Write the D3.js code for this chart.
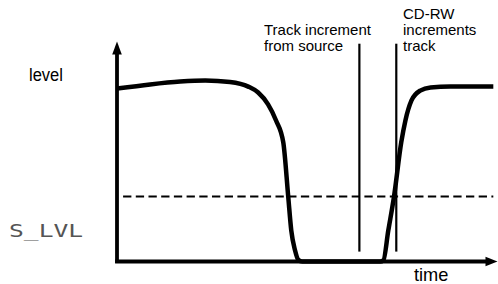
<!DOCTYPE html>
<html>
<head>
<meta charset="utf-8">
<script src="https://cdn.jsdelivr.net/npm/d3@7"></script>
<style>
  html, body { margin: 0; padding: 0; background: #fff; }
  svg { display: block; }
</style>
</head>
<body>
<div id="chart"></div>
<script>
// Signal level over time (time and level in 0..100 units)
const curveTime = [0, 8.7, 16.6, 23.2, 29.7, 34.5, 37.1, 39.7, 41.8, 43.7, 45.0, 45.8, 46.8, 47.6, 48.7, 69.2, 70.0, 71.3, 72.8, 74.7, 75.8, 77.4, 79.7, 82.4, 87.6, 98.9]
const curveLevel = [78.6, 80.5, 81.8, 82.3, 81.6, 79.5, 76.8, 71.4, 64.1, 54.1, 29.5, 14.1, 5.0, 0.9, 0, 0, 0.5, 14.1, 29.5, 54.1, 64.1, 73.2, 77.7, 79.1, 79.5, 79.5]

// Threshold level and event markers
const thresholdLevel = 29.5
const thresholdSpan = [1.6, 98.9]
const markerTimes = [63.7, 73.4]
const markerSpan = [4.5, 99]

const labelTrack = ["Track increment", "from source"]
const labelCdrw = ["CD-RW", "increments", "track"]

const W = 498, H = 284

const svg = d3.select("#chart").append("svg")
  .attr("width", W)
  .attr("height", H)

// Scales
const x = d3.scaleLinear().domain([0, 100]).range([117, 497.5])
const y = d3.scaleLinear().domain([0, 100]).range([261.5, 41.5])

// Dashed threshold
svg.append("line")
  .attr("x1", x(thresholdSpan[0])).attr("x2", x(thresholdSpan[1]))
  .attr("y1", y(thresholdLevel)).attr("y2", y(thresholdLevel))
  .attr("stroke", "#000")
  .attr("stroke-width", 2)
  .attr("stroke-dasharray", "8.3,4.4")

// Vertical markers
svg.selectAll(".marker")
  .data(markerTimes)
  .enter()
  .append("line")
  .attr("class", "marker")
  .attr("x1", (d) => x(d)).attr("x2", (d) => x(d))
  .attr("y1", y(markerSpan[1])).attr("y2", y(markerSpan[0]))
  .attr("stroke", "#000")
  .attr("stroke-width", 2.2)

// Axes with arrow heads
const x0 = x(0), y0 = y(0)
svg.append("line")
  .attr("x1", x0).attr("x2", x0)
  .attr("y1", y0 + 1.5).attr("y2", y(100) + 10)
  .attr("stroke", "#000").attr("stroke-width", 3.8)
svg.append("line")
  .attr("x1", x0 - 1.9).attr("x2", x(100) - 8)
  .attr("y1", y0).attr("y2", y0)
  .attr("stroke", "#000").attr("stroke-width", 3.8)

svg.append("path")
  .attr("d", "M" + x0 + "," + y(100) + "L" + (x0 + 4.8) + "," + (y(100) + 13) + "L" + (x0 - 4.8) + "," + (y(100) + 13) + "Z")
  .attr("fill", "#000")
svg.append("path")
  .attr("d", "M" + x(100) + "," + y0 + "L" + (x(100) - 12) + "," + (y0 - 4.8) + "L" + (x(100) - 12) + "," + (y0 + 4.8) + "Z")
  .attr("fill", "#000")

// Signal curve
const points = curveTime.map((t, i) => [t, curveLevel[i]])
const line = d3.line()
  .x((d) => x(d[0]))
  .y((d) => y(d[1]))
  .curve(d3.curveMonotoneX)

svg.append("path")
  .datum(points)
  .attr("d", line)
  .attr("fill", "none")
  .attr("stroke", "#000")
  .attr("stroke-width", 4.5)
  .attr("stroke-linejoin", "round")

// Texts (slightly condensed to match the original lettering)
const sans = "'Liberation Sans', Arial, Helvetica, sans-serif"

function label(px, py, size, sx, s, family, fill) {
  svg.append("text")
    .attr("transform", "translate(" + px + "," + py + ") scale(" + sx + ",1)")
    .attr("font-family", family || sans)
    .attr("font-size", size)
    .attr("fill", fill || "#000")
    .text(s)
}

label(29, 81, 19, 0.87, "level")
label(414, 281, 19, 0.96, "time")
label(9, 237, 17, 1.45, "S_LVL", "'DejaVu Sans Mono', monospace", "#555")

labelTrack.forEach((s, i) => label(264, 35 + i * 16, 15, 1, s))
labelCdrw.forEach((s, i) => label(403, 19 + i * 16, 15, 1, s))
</script>
</body>
</html>
